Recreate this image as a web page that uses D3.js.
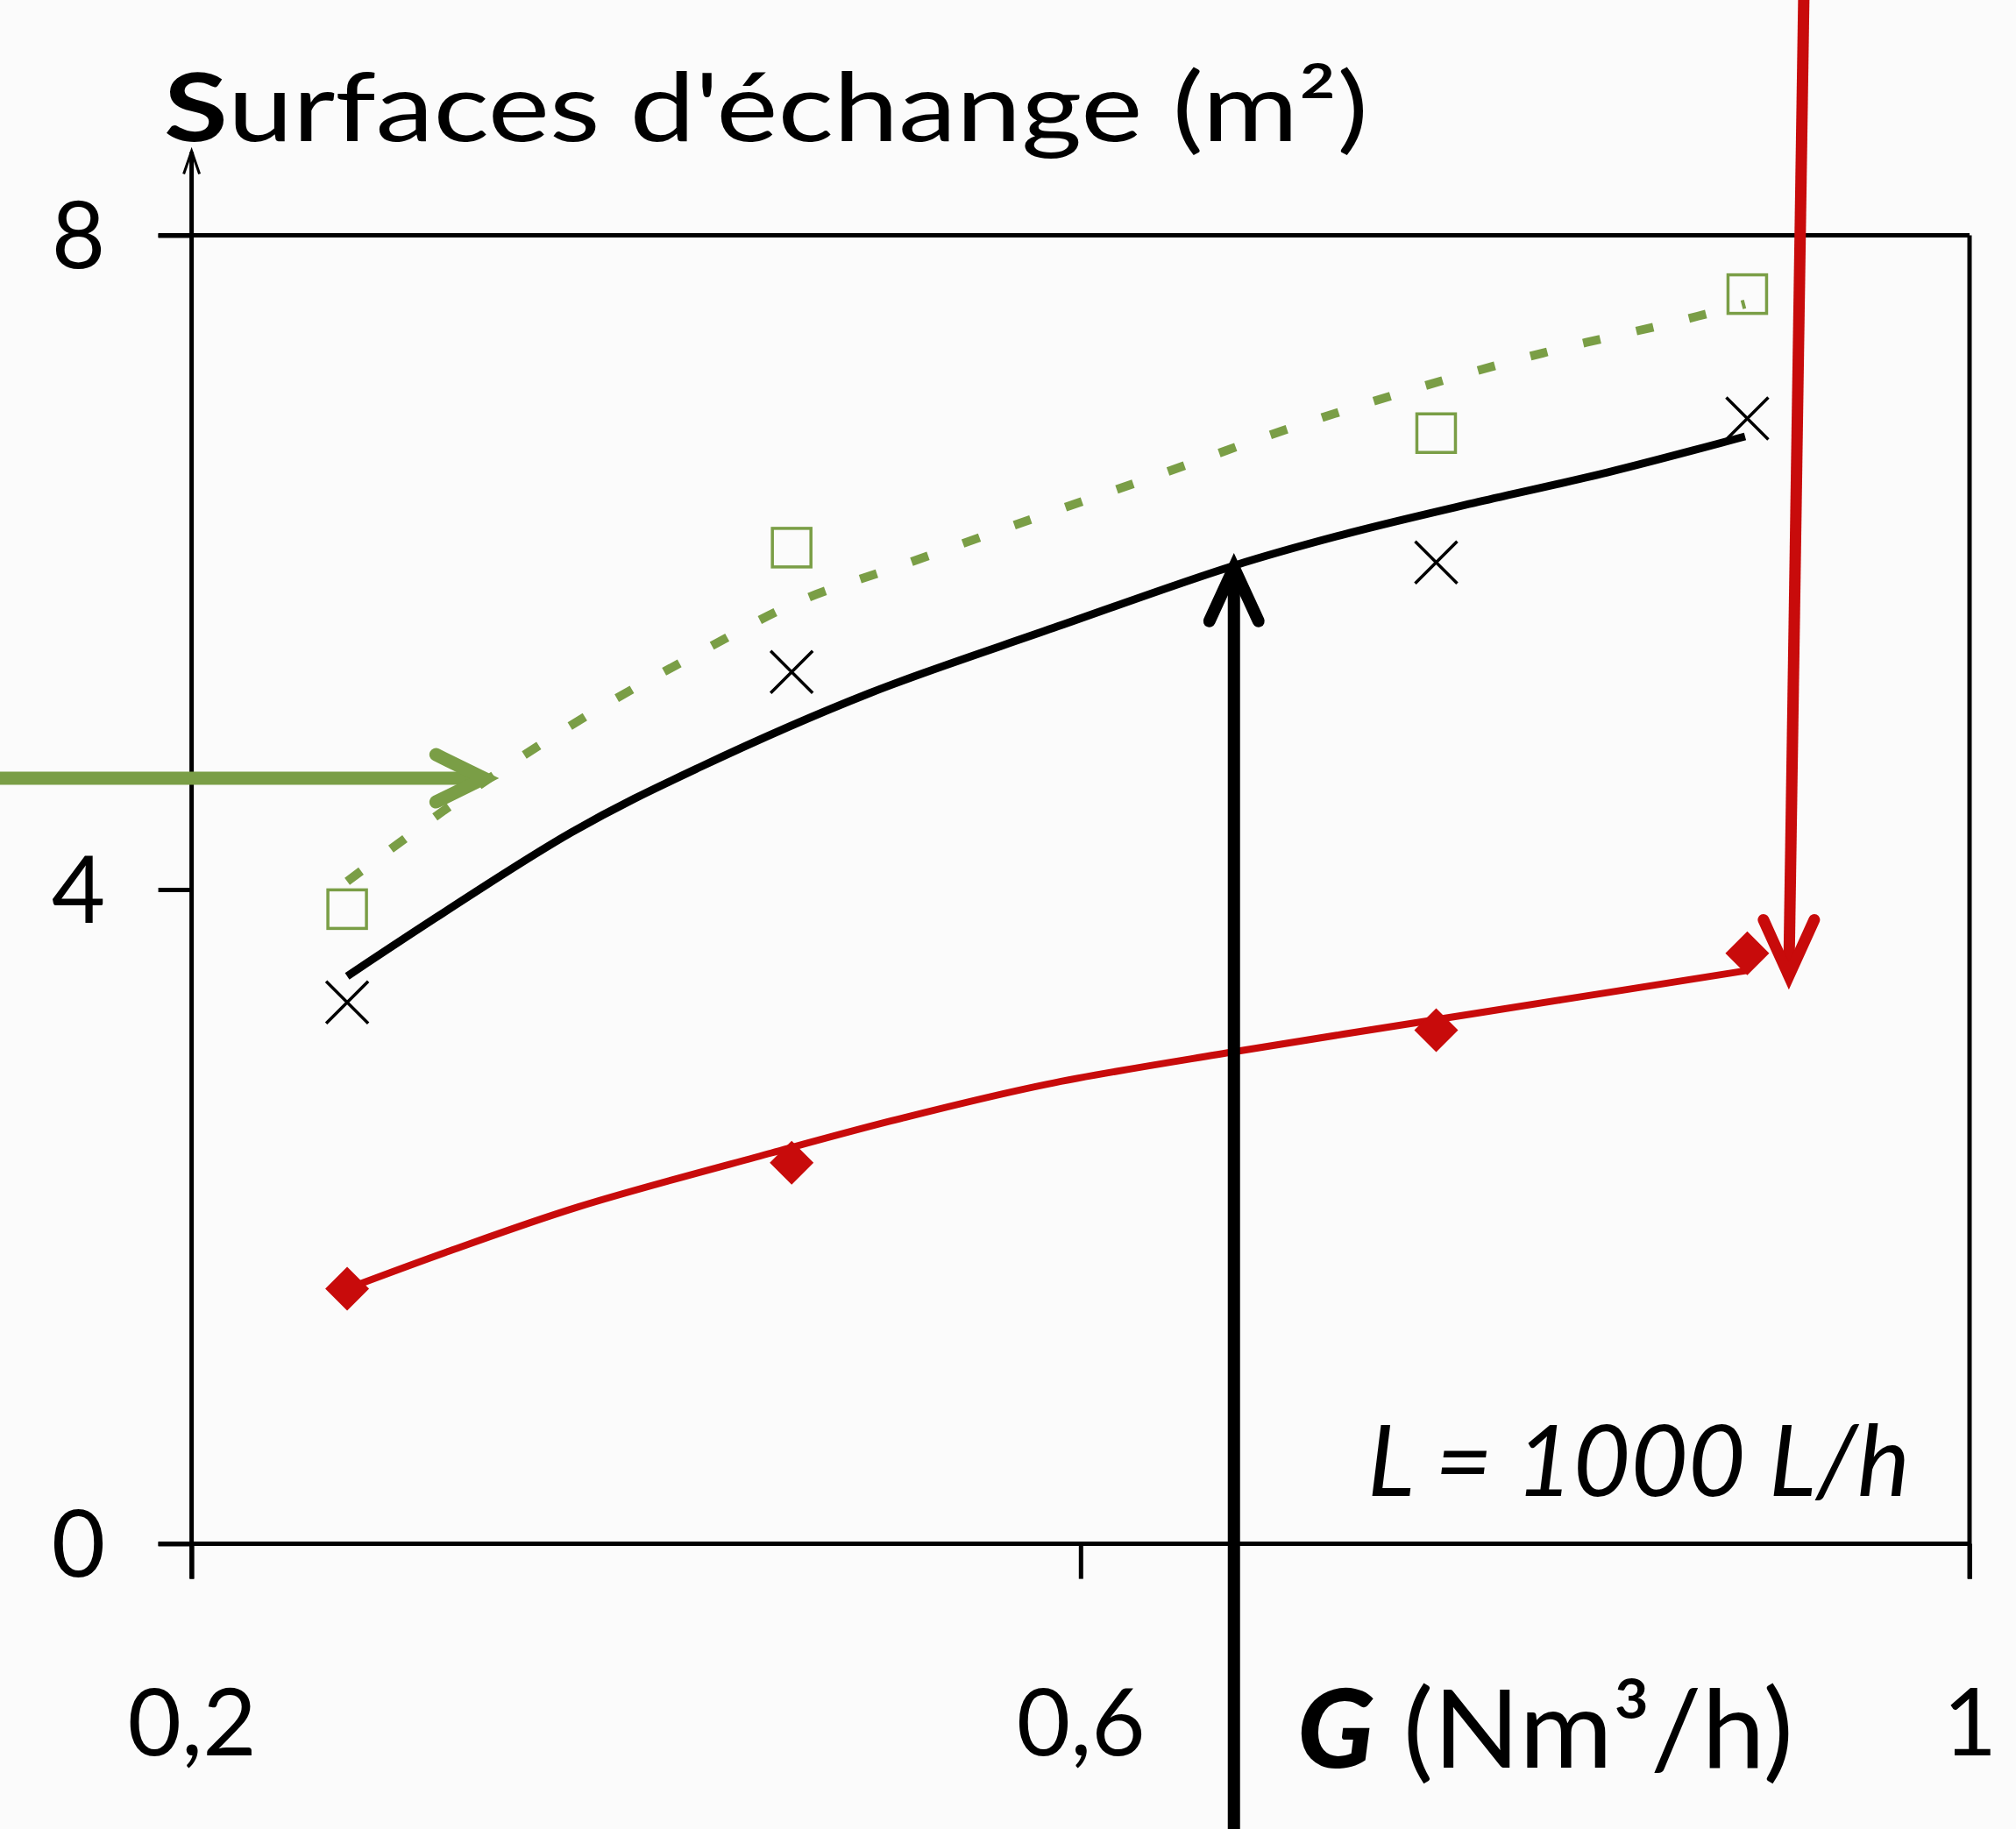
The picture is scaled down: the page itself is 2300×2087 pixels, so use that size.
<!DOCTYPE html>
<html>
<head>
<meta charset="utf-8">
<script src="https://cdn.jsdelivr.net/npm/d3@7"></script>
<style>
  html, body { margin: 0; padding: 0; background: #fbfbfb; }
  svg { display: block; }
  text { font-family: "Comic Sans MS", "Comic Neue", Lato, "DejaVu Sans", sans-serif; fill: #000; }
</style>
</head>
<body>
<script>
// ---------- data ----------
const gasFlow = [0.27, 0.47, 0.76, 0.90];            // G (Nm3/h)
const surfaceGreen = [3.88, 6.09, 6.79, 7.64];        // open squares
const surfaceBlack = [3.31, 5.33, 6.00, 6.88];        // crosses
const surfaceRed   = [1.56, 2.33, 3.14, 3.61];        // diamonds

// trend curves
const fitGreenG = [0.270, 0.334, 0.380, 0.426, 0.473, 0.519, 0.577, 0.634, 0.692, 0.750, 0.808, 0.866, 0.899];
const fitGreenS = [4.05, 4.68, 5.08, 5.43, 5.76, 5.98, 6.26, 6.53, 6.81, 7.06, 7.28, 7.465, 7.58];
const fitBlackG = [0.270, 0.371, 0.429, 0.505, 0.588, 0.669, 0.721, 0.779, 0.837, 0.899];
const fitBlackS = [3.47, 4.35, 4.75, 5.20, 5.60, 5.98, 6.18, 6.37, 6.55, 6.77];
const fitRedG = [0.270, 0.316, 0.374, 0.461, 0.519, 0.585, 0.670, 0.781, 0.837, 0.900];
const fitRedS = [1.56, 1.79, 2.06, 2.39, 2.60, 2.81, 3.01, 3.25, 3.37, 3.505];

const xTicks = [0.2, 0.6, 1];
const yTicks = [0, 4, 8];
const yTitle = "Surfaces d'échange (m²)";
const xTitleG = "G";
const xTitleRest = " (Nm³/h)";
const note = "L = 1000 L/h";

// annotation arrows (data units)
const greenArrowS = 4.68, greenArrowTipG = 0.334;
const blackArrowG = 0.669, blackArrowTipS = 6.0;
const redArrowTopG = 0.9254, redArrowTipG = 0.9187, redArrowTipS = 3.44;

// ---------- drawing ----------
const W = 2300, H = 2087;
const GREEN = "#7a9e46", RED = "#c80b0b";

const svg = d3.select("body").append("svg").attr("width", W).attr("height", H);
svg.append("rect").attr("width", W).attr("height", H).attr("fill", "#fbfbfb");

const x = d3.scaleLinear().domain([0.2, 1]).range([218.6, 2247]);
const y = d3.scaleLinear().domain([0, 8]).range([1761.6, 268.4]);
const loc = d3.formatLocale({decimal: ",", thousands: " ", grouping: [3], currency: ["", "€"]});
const fmt = d => loc.format("~g")(d);

// frame
const frame = svg.append("g").attr("stroke", "#000").attr("stroke-width", 5).attr("fill", "none");
frame.append("line").attr("x1", x(0.2) - 38).attr("x2", x(1)).attr("y1", y(8)).attr("y2", y(8));
frame.append("line").attr("x1", x(1)).attr("x2", x(1)).attr("y1", y(8)).attr("y2", y(0) + 40);
frame.append("line").attr("x1", x(0.2) - 38).attr("x2", x(1)).attr("y1", y(0)).attr("y2", y(0));
frame.append("line").attr("x1", x(0.2)).attr("x2", x(0.2)).attr("y1", y(0) + 40).attr("y2", y(8) - 95);
// small arrowhead on y-axis
svg.append("path")
  .attr("d", `M${x(0.2) - 9},${y(8) - 70} L${x(0.2)},${y(8) - 96} L${x(0.2) + 9},${y(8) - 70}`)
  .attr("fill", "none").attr("stroke", "#000").attr("stroke-width", 3);

// axes (ticks + labels)
const yAxis = svg.append("g").attr("transform", `translate(${x(0.2)},0)`)
  .call(d3.axisLeft(y).tickValues(yTicks).tickSize(38).tickSizeOuter(0).tickPadding(10).tickFormat(fmt));
yAxis.select(".domain").remove();
yAxis.selectAll(".tick line").attr("stroke", "#000").attr("stroke-width", 5);
yAxis.selectAll(".tick text")
  .attr("x", -129).attr("dy", null).attr("y", 37)
  .attr("text-anchor", "middle")
  .style("font-family", "Lato, 'DejaVu Sans', sans-serif")
  .style("font-size", "106px").attr("fill", "#000");

const xAxis = svg.append("g").attr("transform", `translate(0,${y(0)})`)
  .call(d3.axisBottom(x).tickValues(xTicks).tickSize(40).tickSizeOuter(0).tickFormat(fmt));
xAxis.select(".domain").remove();
xAxis.selectAll(".tick line").attr("stroke", "#000").attr("stroke-width", 5);
xAxis.selectAll(".tick text")
  .attr("y", 241).attr("dy", null)
  .attr("text-anchor", "middle")
  .style("font-family", "Lato, 'DejaVu Sans', sans-serif")
  .style("font-size", "106px").attr("fill", "#000");

// titles
const t1 = svg.append("text").attr("x", 187).attr("y", 161)
  .attr("textLength", 1374).attr("lengthAdjust", "spacingAndGlyphs")
  .style("font-family", "Lato, 'DejaVu Sans', sans-serif").style("font-size", "108px");
t1.append("tspan").attr("font-weight", "bold").text(yTitle.slice(0, 1));
t1.append("tspan").text(yTitle.slice(1));

const t2 = svg.append("text").attr("x", 1480).attr("y", 2017)
  .attr("textLength", 566).attr("lengthAdjust", "spacingAndGlyphs")
  .style("font-family", "Lato, 'DejaVu Sans', sans-serif").style("font-size", "124px");
t2.append("tspan").attr("font-weight", "900").attr("font-style", "italic").text(xTitleG);
t2.append("tspan").text(xTitleRest);

svg.append("text").attr("x", 1560).attr("y", 1707)
  .attr("textLength", 619).attr("lengthAdjust", "spacingAndGlyphs")
  .attr("font-style", "italic")
  .style("font-family", "Lato, 'DejaVu Sans', sans-serif").style("font-size", "112px")
  .text(note);

// curves
const line = d3.line().x(d => x(d[0])).y(d => y(d[1])).curve(d3.curveCatmullRom);
svg.append("path").datum(d3.zip(fitGreenG, fitGreenS)).attr("d", line)
  .attr("fill", "none").attr("stroke", GREEN).attr("stroke-width", 10).attr("stroke-dasharray", "20,42");
svg.append("path").datum(d3.zip(fitBlackG, fitBlackS)).attr("d", line)
  .attr("fill", "none").attr("stroke", "#000").attr("stroke-width", 9);
svg.append("path").datum(d3.zip(fitRedG, fitRedS)).attr("d", line)
  .attr("fill", "none").attr("stroke", RED).attr("stroke-width", 8);

// markers
svg.selectAll(".sq").data(d3.zip(gasFlow, surfaceGreen)).join("rect").attr("class", "sq")
  .attr("x", d => x(d[0]) - 22).attr("y", d => y(d[1]) - 22).attr("width", 44).attr("height", 44)
  .attr("fill", "none").attr("stroke", GREEN).attr("stroke-width", 3.5);
svg.selectAll(".cr").data(d3.zip(gasFlow, surfaceBlack)).join("path").attr("class", "cr")
  .attr("d", d => { const cx = x(d[0]), cy = y(d[1]), r = 24;
    return `M${cx - r},${cy - r}L${cx + r},${cy + r}M${cx - r},${cy + r}L${cx + r},${cy - r}`; })
  .attr("stroke", "#000").attr("stroke-width", 3.5).attr("fill", "none");
svg.selectAll(".dm").data(d3.zip(gasFlow, surfaceRed)).join("path").attr("class", "dm")
  .attr("d", d => { const cx = x(d[0]), cy = y(d[1]), r = 25;
    return `M${cx},${cy - r}L${cx + r},${cy}L${cx},${cy + r}L${cx - r},${cy}Z`; })
  .attr("fill", RED);

// annotation arrows
function arrow(x1, y1, x2, y2, color, w, ax, ay) {
  svg.append("line").attr("x1", x1).attr("y1", y1).attr("x2", x2).attr("y2", y2)
    .attr("stroke", color).attr("stroke-width", w);
  svg.append("path").attr("d", `M${x2 + ax[0]},${y2 + ay[0]}L${x2},${y2}L${x2 + ax[1]},${y2 + ay[1]}`)
    .attr("fill", "none").attr("stroke", color).attr("stroke-width", w)
    .attr("stroke-linecap", "round").attr("stroke-linejoin", "miter").attr("stroke-miterlimit", 10);
}
arrow(0, y(greenArrowS), x(greenArrowTipG) - 6, y(greenArrowS), GREEN, 15, [-55, -55], [-27, 27]);
arrow(x(blackArrowG), H, x(blackArrowG), y(blackArrowTipS) + 6, "#000", 14, [-28, 28], [61, 61]);
arrow(x(redArrowTopG), 0, x(redArrowTipG), y(redArrowTipS) - 6, RED, 13, [-29, 29], [-64, -64]);
</script>
</body>
</html>
